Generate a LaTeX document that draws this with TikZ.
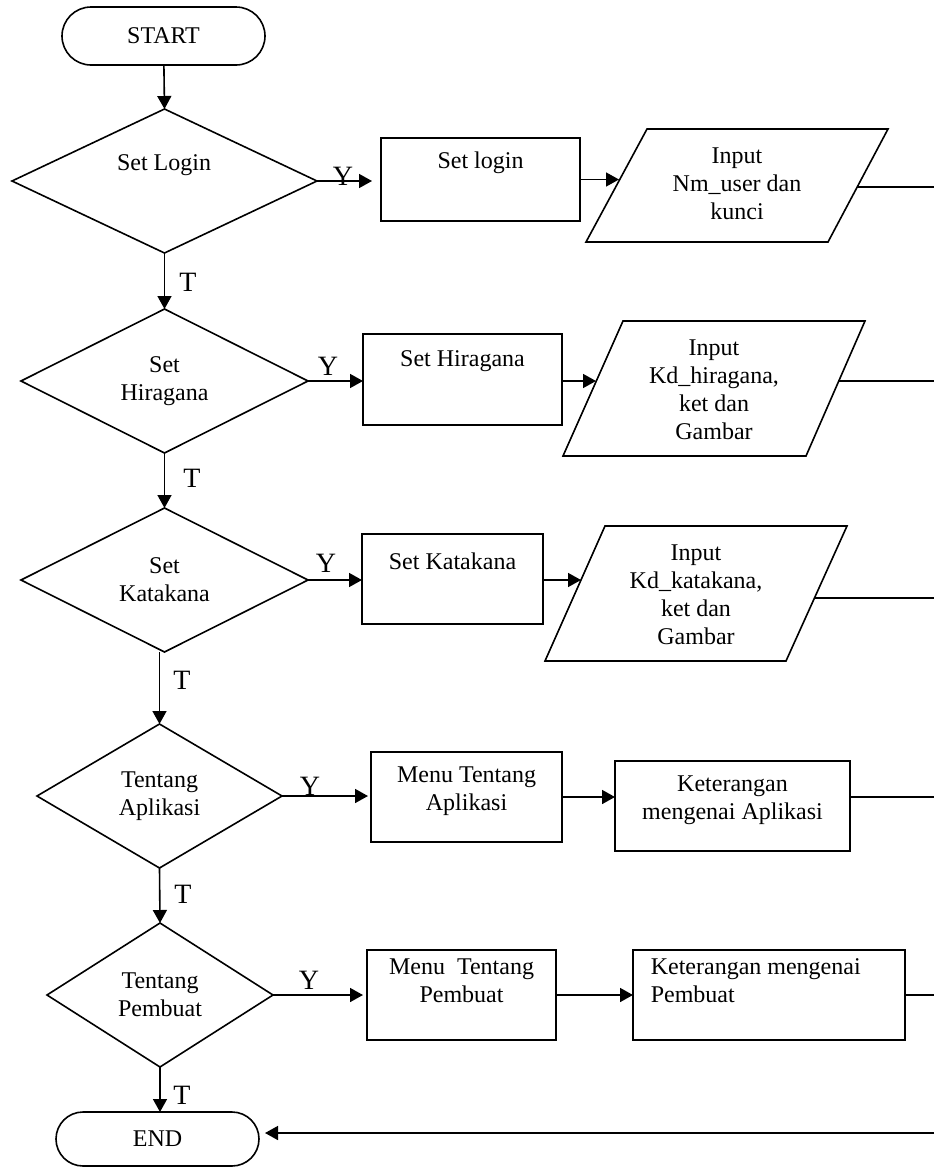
\documentclass[tikz,border=0pt]{standalone}
\usepackage{fontspec}
\setmainfont{Liberation Serif}
\usetikzlibrary{shapes.geometric,arrows.meta}
\begin{document}
\begin{tikzpicture}[x=0.5pt,y=-0.5pt,line width=0.8pt,
  every node/.style={font=\fontsize{12}{14}\selectfont},
  term/.style={draw,rectangle,minimum width=101.5pt,inner sep=0pt,outer sep=0pt},
  dec/.style={draw,diamond,aspect=2,inner sep=0pt,outer sep=0pt,align=center,minimum height=72pt},
  proc/.style={draw,rectangle,inner sep=0pt,outer sep=0pt},
  txt/.style={align=center,inner sep=0pt},
  lbl/.style={font=\fontsize{14}{16}\selectfont,inner sep=0pt},
  arr/.style={-{Triangle[length=6.5pt,width=7pt]}},
  io/.style={draw,line join=miter}
]
\useasboundingbox (0,0) rectangle (934,1168);

% terminals
\node[term,minimum height=29pt,rounded corners=14.5pt] (start) at (163.5,36) {START};
\node[term,minimum height=27pt,rounded corners=13.5pt] (end) at (157.5,1139) {END};

% decisions
\node[dec,minimum width=152.5pt] (d1) at (164.5,181) {};
\node[txt] (d1t) at (164,165) {Set Login};
\node[dec,minimum width=143.5pt] (d2) at (164.5,381) {Set\\Hiragana};
\node[dec,minimum width=143.5pt] (d3) at (164.5,580) {Set\\Katakana};
\node[dec,minimum width=122.5pt] (d4) at (159.5,796) {Tentang\\Aplikasi};
\node[dec,minimum width=113pt] (d5) at (160,995) {Tentang\\Pembuat};

% process boxes
\node[proc,minimum width=99.5pt,minimum height=41.5pt] (b1) at (480.5,179.5) {};
\node[txt] (b1t) at (480.5,163) {Set login};
\node[proc,minimum width=99.5pt,minimum height=45.5pt] (b2) at (462.5,379.5) {};
\node[txt] (b2t) at (462.5,361) {Set Hiragana};
\node[proc,minimum width=90.5pt,minimum height=45pt] (b3) at (452.5,579) {};
\node[txt] (b3t) at (452.5,561) {Set Katakana};
\node[proc,minimum width=95.5pt,minimum height=45pt] (b4) at (466.5,797) {};
\node[txt] (b4t) at (466.5,791) {Menu Tentang\\Aplikasi};
\node[proc,minimum width=117.5pt,minimum height=45pt] (k4) at (732.5,806) {};
\node[txt] (k4t) at (732.5,800) {Keterangan\\mengenai Aplikasi};
\node[proc,minimum width=94.5pt,minimum height=45pt] (b5) at (461.5,995) {};
\node[txt] (b5t) at (461.5,981) {Menu\ \ Tentang\\Pembuat};
\node[proc,minimum width=136pt,minimum height=45pt] (k5) at (769,995) {};
\node[txt,align=left,anchor=west] (k5t) at (650,981) {Keterangan mengenai\\Pembuat};

% input/output parallelograms
\draw[io] (647,129) -- (888,129) -- (828,242) -- (586,242) -- cycle;
\node[txt] (p1t) at (737,184) {Input\\Nm\_user dan\\kunci};
\draw[io] (623,321) -- (865,321) -- (806,456) -- (563,456) -- cycle;
\node[txt] (p2t) at (714,390) {Input\\Kd\_hiragana,\\ket dan\\Gambar};
\draw[io] (605,526) -- (847,526) -- (786,661) -- (545,661) -- cycle;
\node[txt] (p3t) at (696,595) {Input\\Kd\_katakana,\\ket dan\\Gambar};

% connector end points
\coordinate (p1in) at (619,179.5);
\coordinate (p1out) at (857,187);
\coordinate (r1) at (934,187);
\coordinate (p2in) at (596,381);
\coordinate (p2out) at (838,381);
\coordinate (r2) at (934,381);
\coordinate (p3in) at (581,580);
\coordinate (p3out) at (815,598);
\coordinate (r3) at (934,598);
\coordinate (r4) at (934,797);
\coordinate (r5) at (934,995);
\coordinate (r6) at (934,1133);

% main flow
\draw[arr] (start) -- (d1.north);
\draw[arr] (d1.south) -- (d2.north);
\draw[arr] (d2.south) -- (d3.north);
\draw[arr] (d4.north |- d3.south) -- (d4.north);
\draw[arr] (d4.south) -- (d5.north);
\draw[arr] (d5.south) -- (d5.south |- end.north);

% Y branches
\draw[arr,shorten >=4.5pt] (d1.east) -- (b1.west |- d1.east);
\draw[arr] (b1.east) -- (p1in);
\draw (p1out) -- (r1);
\draw[arr] (d2.east) -- (b2.west |- d2.east);
\draw[arr] (p2in -| b2.east) -- (p2in);
\draw (p2out) -- (r2);
\draw[arr] (d3.east) -- (b3.west |- d3.east);
\draw[arr] (p3in -| b3.east) -- (p3in);
\draw (p3out) -- (r3);
\draw[arr,shorten >=1.5pt] (d4.east) -- (b4.west |- d4.east);
\draw[arr] (b4.east) -- (b4.east -| k4.west);
\draw (b4.east -| k4.east) -- (r4);
\draw[arr,shorten >=2pt] (d5.east) -- (b5.west |- d5.east);
\draw[arr] (b5.east) -- (k5.west);
\draw (k5.east) -- (r5);
\draw[arr,shorten >=3pt] (r6) -- (r6 -| end.east);

% labels
\node[lbl] (y1) at (343,176) {Y};
\node[lbl] (y2) at (328,366) {Y};
\node[lbl] (y3) at (326,563) {Y};
\node[lbl] (y4) at (310,786) {Y};
\node[lbl] (y5) at (309,980) {Y};
\node[lbl] (t1) at (188,282) {T};
\node[lbl] (t2) at (192,478) {T};
\node[lbl] (t3) at (182,680) {T};
\node[lbl] (t4) at (183,894) {T};
\node[lbl] (t5) at (182,1095) {T};
\end{tikzpicture}
\end{document}
